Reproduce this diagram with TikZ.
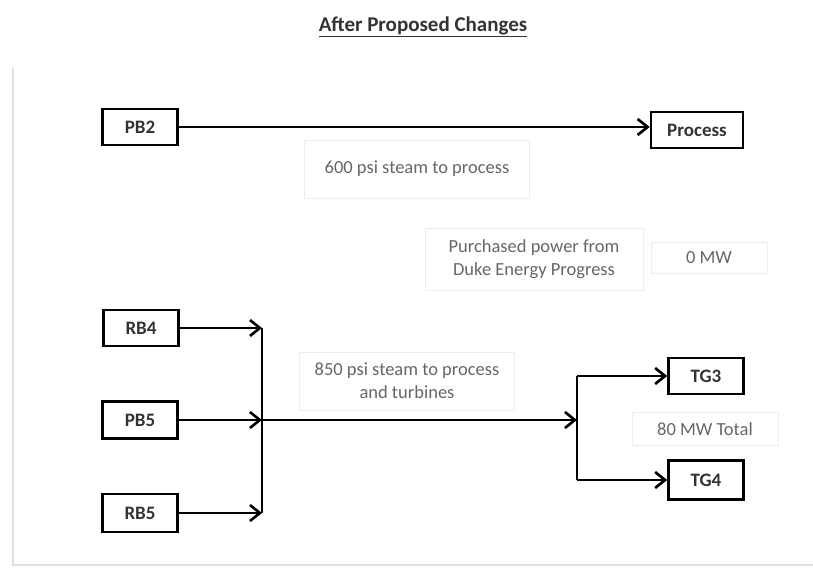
\documentclass[tikz,border=0pt]{standalone}
\usepackage{fontspec}
\setmainfont{Carlito}
\usepackage{tikz}
\usetikzlibrary{arrows.meta,positioning,calc}

\tikzset{
  unit/.style={draw, line width=2.6pt, minimum width=75pt, minimum height=36pt,
    inner sep=0pt, font=\fontsize{19}{21}\selectfont\bfseries, text=black!80},
  note/.style={draw=black!7, line width=1pt, inner sep=0pt, align=center,
    font=\fontsize{18.5}{23}\selectfont, text=black!60},
  flow/.style={line width=2.6pt, -{Straight Barb[length=10pt,width=16pt,line width=2.6pt]}},
  bus/.style={line width=2.6pt}
}

\begin{document}
\begin{tikzpicture}[x=1pt,y=-1pt]
\useasboundingbox (0,0) rectangle (813,567);
\draw[black!12, line width=1.5pt] (13,68) -- (13,565) -- (813,565);

\node[font=\fontsize{21}{23}\selectfont\bfseries, text=black!80] (title) at (423,27) {\underline{After Proposed Changes}};

% top line
\node[unit] (PB2) at (140,127) {PB2};
\node[unit, minimum width=92pt] (Process) at (697,130) {Process};
\draw[flow] (PB2) -- (PB2 -| Process.west);

\node[note, minimum width=225pt, minimum height=58pt] (n600) at (417,169) {600 psi steam to process};
\node[note, minimum width=218pt, minimum height=62pt] (purch) at (534,259) {Purchased power from\\Duke Energy Progress};
\node[note, minimum width=116pt, minimum height=31pt] (zero) at (709,258) {0 MW};

% boilers
\node[unit] (RB4) at (141,328) {RB4};
\node[unit, minimum height=37pt] (PB5) at (140,420) {PB5};
\node[unit, minimum height=38pt] (RB5) at (140,513) {RB5};

% turbines
\node[unit] (TG3) at (706,376) {TG3};
\node[unit, minimum height=39pt] (TG4) at (706,480) {TG4};

\node[note, minimum width=215pt, minimum height=58pt] (n850) at (407,381) {850 psi steam to process\\and turbines};
\node[note, minimum width=146pt, minimum height=33pt] (total) at (705,429) {80 MW Total};

\coordinate (join) at (262,420);
\coordinate (split) at (577,420);

\draw[bus] (RB4 -| join) -- (RB5 -| join);
\draw[flow] (RB4) -- (RB4 -| join);
\draw[flow] (PB5) -- (join);
\draw[flow] (RB5) -- (RB5 -| join);
\draw[flow] (join) -- (split);

\draw[bus] (TG3 -| split) -- (TG4 -| split);
\draw[flow] (TG3 -| split) -- (TG3);
\draw[flow] (TG4 -| split) -- (TG4);

\end{tikzpicture}
\end{document}
